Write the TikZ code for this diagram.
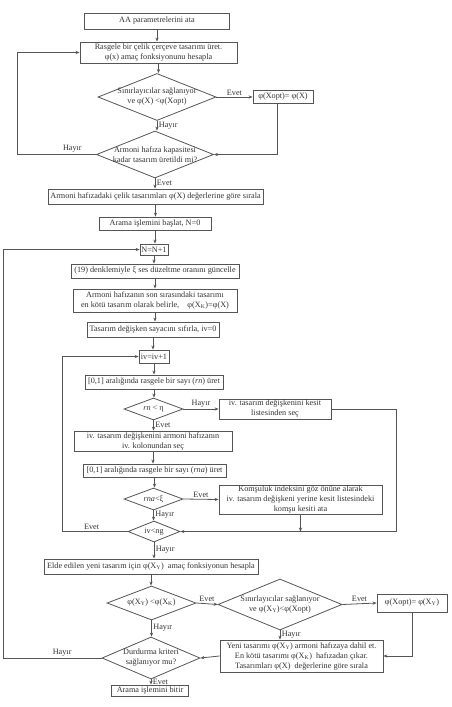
\documentclass[tikz,border=0pt]{standalone}
\usepackage{fontspec}
\setmainfont{Liberation Serif}
\usetikzlibrary{shapes.geometric,arrows.meta}
\definecolor{ln}{HTML}{555555}
\definecolor{tx}{HTML}{333333}
\tikzset{
  every node/.style={text=tx, font=\fontsize{8.2}{10}\selectfont},
  box/.style={draw=ln, line width=0.8pt, rectangle, inner sep=0pt, align=center},
  dia/.style={draw=ln, line width=0.8pt, diamond, inner sep=0pt},
  dtext/.style={label={[align=center, inner sep=0pt]center:#1}},
  conn/.style={draw=ln, line width=0.8pt, -{Stealth[length=4pt,width=3.2pt]}},
  lab/.style={inner sep=1.5pt}
}
\begin{document}
\begin{tikzpicture}[x=1pt,y=-1pt]
\useasboundingbox (0,0) rectangle (451,707);
% nodes
\node[box, minimum width=145pt, minimum height=16pt] (aa) at (157,21) {AA parametrelerini ata};
\node[box, minimum width=157pt, minimum height=21pt] (rasg) at (158.5,52.5) {Rasgele bir çelik çerçeve tasarımı üret.\\ φ(x) amaç fonksiyonunu hesapla};
\node[dia, minimum width=118pt, minimum height=47pt, dtext={Sınırlayıcılar sağlanıyor\\ ve φ(X) <φ(Xopt)}] (d1) at (157,97) {};
\node[box, minimum width=60pt, minimum height=13pt] (xo1) at (283,97) {φ(Xopt)= φ(X)};
\node[dia, minimum width=117pt, minimum height=47pt, dtext={Armoni hafıza kapasitesi\\ kadar tasarım üretildi mi?}] (d2) at (155,154.5) {};
\node[box, minimum width=215pt, minimum height=15pt] (sort) at (155.5,196.5) {Armoni hafızadaki çelik tasarımları φ(X) değerlerine göre sırala};
\node[box, minimum width=112pt, minimum height=13pt] (start) at (155,223.5) {Arama işlemini başlat, N=0};
\node[box, minimum width=28pt, minimum height=11pt] (nn) at (154,249.5) {N=N+1};
\node[box, minimum width=168pt, minimum height=14pt] (eq) at (155,271) {(19) denklemiyle ξ ses düzeltme oranını güncelle};
\node[box, minimum width=164pt, minimum height=23pt] (worst) at (155,300.5) {Armoni hafızanın son sırasındaki tasarımı\\ en kötü tasarım olarak belirle,\quad φ(X\textsubscript{K})=φ(X)};
\node[box, minimum width=132pt, minimum height=15pt] (reset) at (153,329.5) {Tasarım değişken sayacını sıfırla, iv=0};
\node[box, minimum width=30pt, minimum height=13pt] (iv) at (154,356.5) {iv=iv+1};
\node[box, minimum width=138pt, minimum height=14pt] (rn) at (154,382) {[0,1] aralığında rasgele bir sayı (\textit{rn}) üret};
\node[dia, minimum width=59pt, minimum height=22pt, dtext={\textit{rn} < η}] (drn) at (153.5,409) {};
\node[box, minimum width=112pt, minimum height=20pt] (kes) at (275,409) {iv. tasarım değişkenini kesit\\ listesinden seç};
\node[box, minimum width=158pt, minimum height=20pt] (col) at (153,441) {iv. tasarım değişkenini armoni hafızanın\\ iv. kolonundan seç};
\node[box, minimum width=143pt, minimum height=13pt] (rna) at (154.5,470.5) {[0,1] aralığında rasgele bir sayı (\textit{rna}) üret};
\node[dia, minimum width=59pt, minimum height=22pt, dtext={\textit{rna}<ξ}] (drna) at (153.5,499) {};
\node[box, minimum width=163pt, minimum height=29pt] (kom) at (300.5,499.5) {Komşuluk indeksini göz önüne alarak\\ iv. tasarım değişkeni yerine kesit listesindeki\\ komşu kesiti ata};
\node[dia, minimum width=52pt, minimum height=21pt, dtext={iv<ng}] (dng) at (154,531.5) {};
\node[box, minimum width=214pt, minimum height=15pt] (elde) at (151,566.5) {Elde edilen yeni tasarım için φ(X\textsubscript{Y})\ \ amaç fonksiyonun hesapla};
\node[dia, minimum width=89pt, minimum height=34pt, dtext={φ(X\textsubscript{Y}) <φ(X\textsubscript{K})}] (dxy) at (151.5,603) {};
\node[dia, minimum width=124pt, minimum height=51pt, dtext={Sınırlayıcılar sağlanıyor\\ ve φ(X\textsubscript{Y})<φ(Xopt)}] (ds2) at (280,604.5) {};
\node[box, minimum width=70pt, minimum height=18pt] (xo2) at (412,603) {φ(Xopt)= φ(X\textsubscript{Y})};
\node[box, minimum width=163pt, minimum height=32pt] (yeni) at (301.5,656) {Yeni tasarımı φ(X\textsubscript{Y}) armoni hafızaya dahil et.\\ En kötü tasarımı φ(X\textsubscript{K})\ \ hafızadan çıkar.\\ Tasarımları φ(X)\ \ değerlerine göre sırala};
\node[dia, minimum width=98pt, minimum height=42pt, dtext={Durdurma kriteri\\ sağlanıyor mu?}] (dd) at (151,658) {};
\node[box, minimum width=77pt, minimum height=11pt] (fin) at (150,690.5) {Arama işlemini bitir};
\coordinate (L1) at (17,0);
\coordinate (L2) at (3,0);
\coordinate (L3) at (62,0);
\coordinate (R1) at (396,0);
% connectors
\draw[conn] (aa.south) -- (aa.south |- rasg.north);
\draw[conn] (rasg.south) -- (rasg.south |- d1.north);
\draw[conn] (d1.east) -- node[lab, above] {Evet} (xo1.west);
\draw[conn] (d1.south) -- node[lab, right, pos=0.45] {Hayır} (d1.south |- d2.north);
\draw[conn] ([xshift=-6pt]xo1.south) |- (d2.east);
\draw[conn] (d2.west) -- node[lab, above, pos=0.3] {Hayır} (d2.west -| L1) |- (rasg.west);
\draw[conn] (d2.south) -- node[lab, right, pos=0.45] {Evet} (d2.south |- sort.north);
\draw[conn] (sort.south) -- (sort.south |- start.north);
\draw[conn] (start.south) -- (start.south |- nn.north);
\draw[conn] (nn.south) -- (nn.south |- eq.north);
\draw[conn] (eq.south) -- (eq.south |- worst.north);
\draw[conn] (worst.south) -- (worst.south |- reset.north);
\draw[conn] (reset.south) -- (reset.south |- iv.north);
\draw[conn] (iv.south) -- (iv.south |- rn.north);
\draw[conn] (rn.south) -- (rn.south |- drn.north);
\draw[conn] (drn.east) -- node[lab, above] {Hayır} (kes.west);
\draw[conn] (drn.south) -- node[lab, right, pos=0.45] {Evet} (drn.south |- col.north);
\draw[conn] (col.south) -- (col.south |- rna.north);
\draw[conn] (rna.south) -- (rna.south |- drna.north);
\draw[conn] (drna.east) -- node[lab, above] {Evet} (kom.west);
\draw[conn] (drna.south) -- node[lab, right, pos=0.45] {Hayır} (drna.south |- dng.north);
\draw[conn] (kes.east) -- (kes.east -| R1) |- (dng.east);
\draw[conn] (kom.south) -- (kom.south |- dng.east);
\draw[conn] (dng.west) -- node[lab, above, pos=0.55] {Evet} (dng.west -| L3) |- (iv.west);
\draw[conn] (dng.south) -- node[lab, right, pos=0.45] {Hayır} (dng.south |- elde.north);
\draw[conn] (elde.south) -- (elde.south |- dxy.north);
\draw[conn] (dxy.east) -- node[lab, above] {Evet} (ds2.west);
\draw[conn] (ds2.east) -- node[lab, above] {Evet} (xo2.west);
\draw[conn] (ds2.south) -- node[lab, right, pos=0.45] {Hayır} (ds2.south |- yeni.north);
\draw[conn] (xo2.south) |- (yeni.east);
\draw[conn] (yeni.west) -- (dd.east);
\draw[conn] (dxy.south) -- node[lab, right, pos=0.45] {Hayır} (dxy.south |- dd.north);
\draw[conn] (dd.west) -- node[lab, above, pos=0.4] {Hayır} (dd.west -| L2) |- (nn.west);
\draw[conn] (dd.south) -- node[lab, right, pos=0.5] {Evet} (dd.south |- fin.north);
\end{tikzpicture}
\end{document}
